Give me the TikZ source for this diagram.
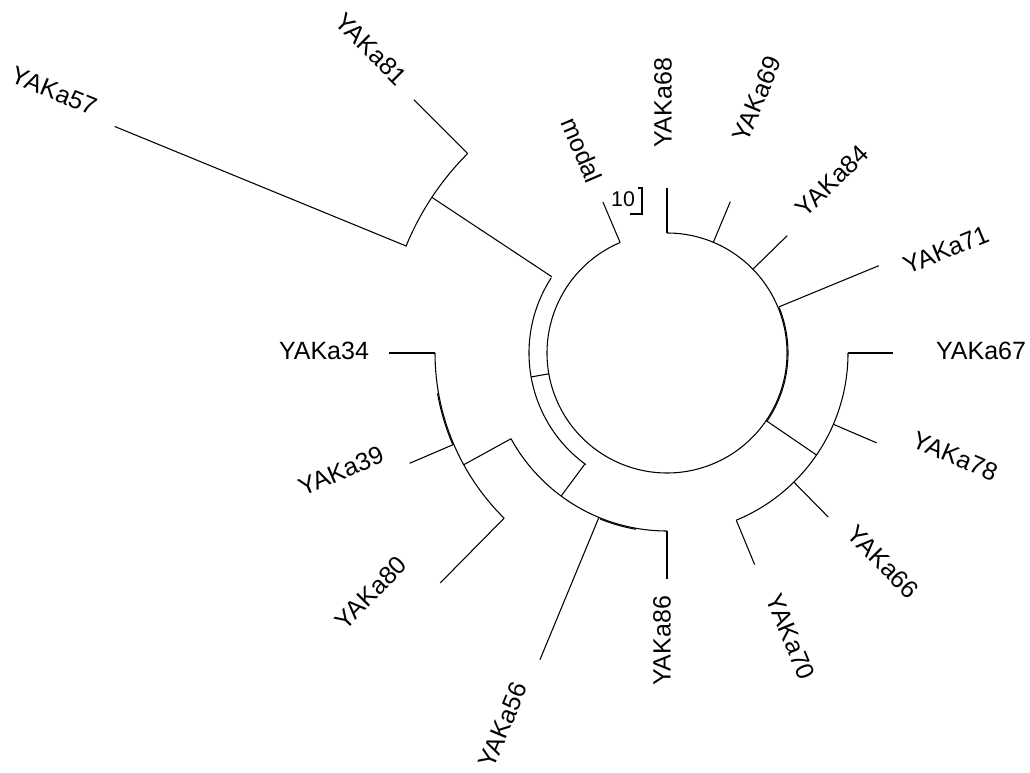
\documentclass[tikz,border=0pt]{standalone}
\usepackage{fontspec}
\setmainfont{Liberation Sans}
\newcommand\mybranch[3]{%
  \draw[br] (#1:#2) -- (#1:#3);}
\newcommand\myarc[3]{%
  \draw[br] (#1:#3) arc[start angle=#1, end angle=#2, radius=#3];}
\newcommand\mylabel[5]{%
  \node[lbl, rotate=#4] (#1) at (#2,{773-#3}) {#5};}
\begin{document}
\begin{tikzpicture}[x=0.75pt,y=0.75pt,
  br/.style={line width=0.8pt, black},
  lbl/.style={font=\fontsize{18.75}{20}\selectfont, inner sep=0pt}]
\fill[white] (0,0) rectangle (1030,773);
\useasboundingbox (0,0) rectangle (1030,773);
\begin{scope}[shift={(667,420)}]
  % inner circle
  \myarc{113}{450}{120}
  \myarc{-34}{22}{121}
  \mybranch{90}{120}{165}   % YAKa68
  \mybranch{67.3}{120}{164} % YAKa69
  \mybranch{44.3}{120}{168} % YAKa84
  \mybranch{22.4}{121}{229} % YAKa71
  \mybranch{113}{120}{164}  % modal
  % right clade
  \mybranch{-34.3}{120}{181}
  \myarc{-67.5}{0}{181}
  \mybranch{0}{181}{226}     % YAKa67
  \mybranch{-23.2}{181}{228} % YAKa78
  \mybranch{-45.5}{181}{230} % YAKa66
  \mybranch{-67.5}{181}{229} % YAKa70
  % left clade
  \mybranch{190}{120}{138}
  \myarc{147}{234}{138}
  % upper clade
  \mybranch{146.5}{138}{282}
  \myarc{135}{157.8}{282}
  \mybranch{135}{282}{358}   % YAKa81
  \mybranch{157.7}{282}{597} % YAKa57
  % bottom clade
  \mybranch{233.5}{138}{178}
  \myarc{208.8}{270}{178}
  \myarc{248}{260}{179}
  \mybranch{270}{178}{226}   % YAKa86
  \mybranch{247.5}{178}{332} % YAKa56
  \mybranch{208.8}{178}{232}
  \myarc{180}{225.4}{232}
  \myarc{190}{203}{233}
  \mybranch{180}{232}{278}   % YAKa34
  \mybranch{203.2}{232}{280} % YAKa39
  \mybranch{225.4}{232}{323} % YAKa80
\end{scope}
% labels (pixel centre x, y from top, rotation)
\mylabel{l57}{54}{91}{-22.4}{YAKa57}
\mylabel{l81}{371}{49}{-45}{YAKa81}
\mylabel{lmodal}{582}{150}{-67}{modal}
\mylabel{l68}{663}{103}{90}{YAKa68}
\mylabel{l69}{757}{99}{67.3}{YAKa69}
\mylabel{l84}{832}{181}{44.3}{YAKa84}
\mylabel{l71}{946}{250}{22.4}{YAKa71}
\mylabel{l67}{981}{351}{0}{YAKa67}
\mylabel{l78}{955}{456}{-23.2}{YAKa78}
\mylabel{l66}{883}{562}{-45.5}{YAKa66}
\mylabel{l70}{791}{637}{-67.5}{YAKa70}
\mylabel{l86}{662}{641}{90}{YAKa86}
\mylabel{l56}{503}{725}{67.5}{YAKa56}
\mylabel{l80}{371}{593}{45.4}{YAKa80}
\mylabel{l39}{341}{471}{23.2}{YAKa39}
\mylabel{l34}{324}{351}{0}{YAKa34}
% scale bar
\node[font=\fontsize{16}{17}\selectfont, inner sep=0pt] (sc) at (623,574) {10};
\draw[br] (638,585) -- (642,585) -- (642,559) -- (630,559);
\end{tikzpicture}
\end{document}
